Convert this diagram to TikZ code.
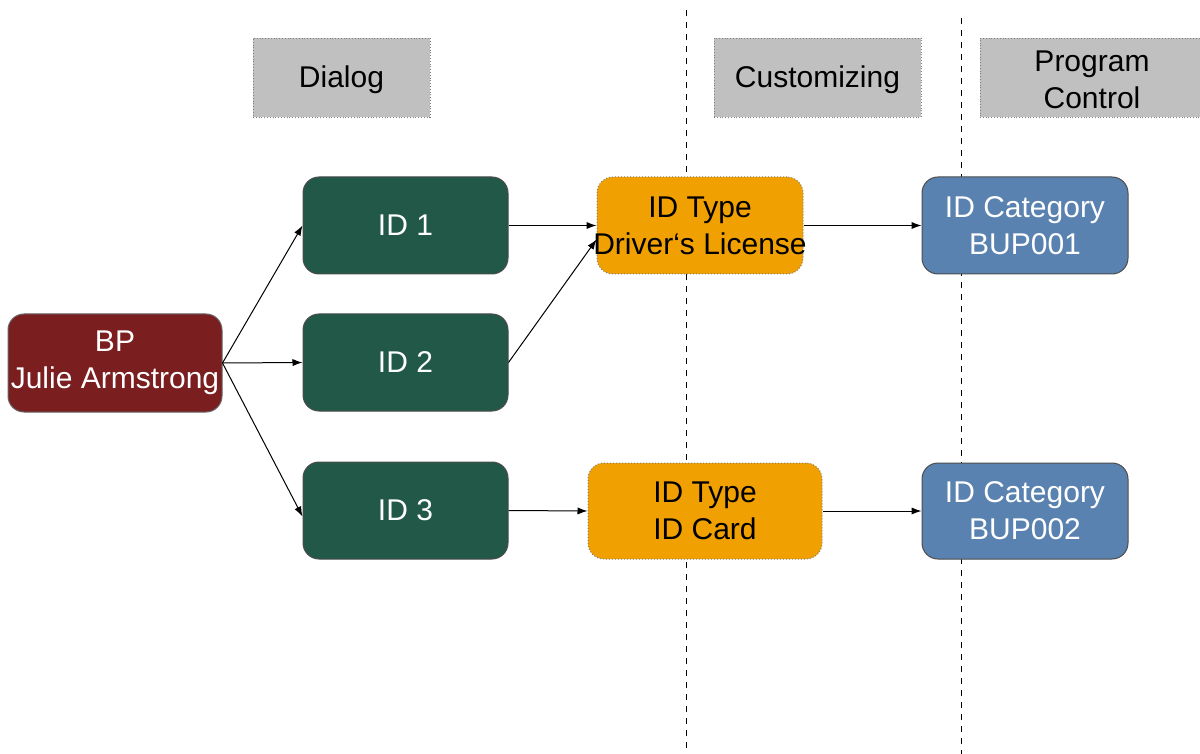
\documentclass[tikz,border=0pt]{standalone}
\usepackage{fontspec}
\setmainfont{Liberation Sans}
\usetikzlibrary{arrows.meta}
\definecolor{hdrgray}{HTML}{C0C0C0}
\definecolor{bpred}{HTML}{7A1E1F}
\definecolor{idgreen}{HTML}{215848}
\definecolor{typeorange}{HTML}{F0A000}
\definecolor{catblue}{HTML}{5A82B0}
\tikzset{
  hdr/.style={fill=hdrgray, draw=gray, densely dotted, line width=0.4pt, inner sep=0pt, align=center, text=black},
  hdrtext/.style={inner sep=0pt, align=center, text=black},
  rbox/.style={rounded corners=8pt, inner sep=0pt, align=center, line width=0.5pt},
  bpbox/.style={rbox, fill=bpred, draw=black!60, text=white},
  idbox/.style={rbox, fill=idgreen, draw=black!70, text=white},
  typebox/.style={rbox, fill=typeorange, draw=gray, densely dotted, text=black},
  catbox/.style={rbox, fill=catblue, draw=black!70, text=white},
  conn/.style={-{Latex[length=5pt,width=3.6pt]}, line width=0.5pt, black},
  sep/.style={dashed, line width=0.5pt, black}
}
\begin{document}
\begin{tikzpicture}[x=0.5pt, y=-0.5pt, font=\fontsize{15}{18.5}\selectfont]
\useasboundingbox (0,0) rectangle (1200,754);
% separators
\draw[sep] (686,10) coordinate (s1a) -- (686,754) coordinate (s1b);
\draw[sep] (961,18) coordinate (s2a) -- (961,754) coordinate (s2b);
% headers
\node[hdr, minimum width=88.5pt, minimum height=39.5pt] (hd) at (341.5,77.5) {};
\node[hdrtext] (hdt) at (341.5,80) {Dialog};
\node[hdr, minimum width=103.5pt, minimum height=39.5pt] (hc) at (817.5,77.5) {};
\node[hdrtext] (hct) at (817.5,80) {Customizing};
\node[hdr, minimum width=110pt, minimum height=39.5pt] (hp) at (1090,77.5) {};
\node[hdrtext] (hpt) at (1092,80) {Program\\Control};
% nodes
\node[bpbox, minimum width=107pt, minimum height=49pt] (bp) at (115,363) {BP\\\makebox[0pt]{Julie Armstrong}};
\node[idbox, minimum width=102.5pt, minimum height=48.5pt] (id1) at (405.5,225.5) {ID 1};
\node[idbox, minimum width=102.5pt, minimum height=48.5pt] (id2) at (405.5,362.5) {ID 2};
\node[idbox, minimum width=102.5pt, minimum height=48.5pt] (id3) at (405.5,510.5) {ID 3};
\node[typebox, minimum width=103pt, minimum height=48.5pt] (dl) at (700,225.5) {ID Type\\\makebox[0pt]{Driver‘s License}};
\node[typebox, minimum width=117pt, minimum height=48pt] (card) at (705,511) {ID Type\\ID Card};
\node[catbox, minimum width=103pt, minimum height=48.5pt] (c1) at (1025,225.5) {ID Category\\BUP001};
\node[catbox, minimum width=103pt, minimum height=48pt] (c2) at (1025,511) {ID Category\\BUP002};
% connectors
\draw[conn] (bp.east) -- (id1.west);
\draw[conn] (bp.east) -- (id2.west);
\draw[conn] (bp.east) -- ([yshift=-3pt]id3.west);
\draw[conn] (id1.east) -- (dl.west);
\draw[conn] (id2.east) -- ([yshift=-7pt]dl.west);
\draw[conn] (dl.east) -- (c1.west);
\draw[conn] (id3.east) -- (card.west);
\draw[conn] (card.east) -- (c2.west);
\end{tikzpicture}
\end{document}
